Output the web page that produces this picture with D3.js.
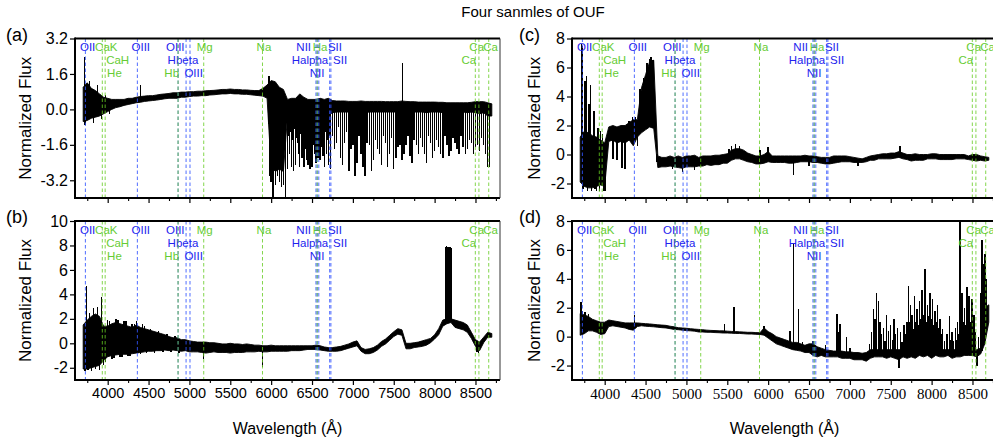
<!DOCTYPE html>
<html><head><meta charset="utf-8">
<script src="https://cdn.jsdelivr.net/npm/d3@7"></script>
<style>body{margin:0;background:#fff} svg{display:block}</style>
</head><body><svg id="c" width="993" height="442"></svg>
<script>
// ---------------- DATA ----------------
const title = "Four sanmles of OUF";
const wave = [3700,3750,3800,3850,3900,3950,4000,4050,4100,4150,
4200,4250,4300,4350,4400,4450,4500,4550,4600,4650,
4700,4750,4800,4850,4900,4950,5000,5050,5100,5150,
5200,5250,5300,5350,5400,5450,5500,5550,5600,5650,
5700,5750,5800,5850,5900,5950,6000,6050,6100,6150,
6200,6250,6300,6350,6400,6450,6500,6550,6600,6650,
6700,6750,6800,6850,6900,6950,7000,7050,7100,7150,
7200,7250,7300,7350,7400,7450,7500,7550,7600,7650,
7700,7750,7800,7850,7900,7950,8000,8050,8100,8150,
8200,8250,8300,8350,8400,8450,8500,8550,8600,8650,8700];

// panel (a): upper / lower edge of the dense flux band, and single-pixel excursions [wavelength, flux]
const aHigh = [1.0,1.2,0.95,0.85,0.7,0.55,0.5,0.45,0.45,0.45,
0.45,0.5,0.5,0.55,0.58,0.6,0.62,0.62,0.65,0.68,
0.7,0.72,0.75,0.75,0.78,0.78,0.8,0.8,0.82,0.82,
0.84,0.85,0.86,0.88,0.9,0.9,0.92,0.9,0.9,0.88,
0.88,0.86,0.85,0.85,0.95,1.1,1.3,1.25,1.0,0.9,
0.45,0.5,0.5,0.7,0.55,0.45,0.45,0.45,0.5,0.45,
0.5,0.4,0.38,0.38,0.38,0.36,0.36,0.36,0.38,0.36,
0.36,0.36,0.36,0.36,0.35,0.35,0.35,0.35,0.38,0.36,
0.35,0.35,0.33,0.33,0.33,0.33,0.33,0.32,0.32,0.3,
0.3,0.3,0.3,0.3,0.3,0.32,0.35,0.35,0.35,0.3,0.25];
const aLow = [-0.55,-0.5,-0.4,-0.35,-0.3,-0.2,-0.1,0.0,0.08,0.12,
0.18,0.22,0.26,0.3,0.32,0.36,0.38,0.4,0.42,0.45,
0.48,0.5,0.5,0.5,0.55,0.55,0.58,0.6,0.6,0.62,
0.62,0.65,0.66,0.68,0.7,0.7,0.72,0.7,0.7,0.68,
0.68,0.66,0.64,0.62,0.6,0.5,-2.6,-2.8,-2.7,-2.8,
-0.3,-0.3,-0.4,-0.3,-0.3,-0.4,-0.3,-0.3,-0.3,-0.4,
-0.3,-0.15,-0.12,-0.12,-0.12,-0.12,-0.12,-0.12,-0.12,-0.15,
-0.12,-0.12,-0.12,-0.12,-0.12,-0.12,-0.12,-0.12,-0.12,-0.12,
-0.12,-0.12,-0.12,-0.12,-0.15,-0.12,-0.12,-0.12,-0.15,-0.12,
-0.15,-0.12,-0.15,-0.12,-0.15,-0.12,-0.15,-0.2,-0.15,-0.3,-0.3];
const aSpikes = [[3715,2.35],[3725,-0.7],[3775,1.3],[3825,-0.6],[3875,1.1],[3925,-0.45],[3975,0.65],[4025,-0.2],
[4400,1.1],[5975,1.5],[5985,-3.0],[6000,-3.3],[6025,-4.3],[6050,-3.4],[6075,-3.0],[6100,-3.3],[6125,-3.5],[6150,-3.4],
[6175,-4.3],[6200,-2.7],[6212,-1.2],[6225,-2.0],[6237,-1.0],[6250,-2.6],[6262,-1.4],[6275,-2.8],[6287,-0.9],
[6300,-2.5],[6312,-1.3],[6325,-1.5],[6337,-2.0],[6350,-2.6],[6362,-1.1],[6375,-2.2],[6387,-1.6],[6400,-2.6],
[6412,-1.0],[6425,-1.8],[6437,-2.3],[6450,-2.5],[6462,-1.2],[6475,-2.7],[6487,-1.5],[6500,-2.6],[6512,-1.0],
[6525,-1.6],[6537,-2.0],[6550,-2.4],[6562,-1.3],[6575,-2.2],[6587,-1.1],[6600,-2.3],[6612,-1.7],[6625,-1.4],
[6637,-2.1],[6650,-2.6],[6662,-1.0],[6675,-2.0],[6687,-1.4],[6700,-2.5],[6712,-1.2],[6725,-2.7],[6750,-1.2],
[6775,-1.8],[6800,-1.5],[6825,-0.8],[6850,-2.2],[6875,-2.5],[6900,-1.5],[6925,-1.0],[6950,-2.8],[6975,-1.8],
[7000,-1.6],[7025,-3.0],[7050,-2.4],[7075,-1.2],[7100,-2.0],[7125,-2.6],[7150,-3.0],[7175,-1.5],[7200,-1.6],
[7225,-2.8],[7250,-2.3],[7275,-1.4],[7300,-1.8],[7325,-2.0],[7350,-2.5],[7375,-1.2],[7400,-1.5],[7425,-2.6],
[7450,-2.0],[7475,-1.3],[7500,-2.7],[7525,-2.2],[7550,-1.7],[7575,-1.6],[7600,-2.3],[7605,2.1],[7625,-2.0],
[7650,-1.6],[7675,-1.2],[7700,-2.1],[7725,-2.4],[7750,-1.4],[7775,-1.6],[7800,-2.0],[7825,-1.3],[7850,-1.7],
[7875,-2.0],[7900,-2.4],[7925,-1.2],[7950,-1.5],[7975,-2.2],[8000,-1.9],[8025,-1.4],[8050,-1.7],[8075,-2.0],
[8100,-2.2],[8125,-1.2],[8150,-1.6],[8175,-2.1],[8200,-1.9],[8225,-1.3],[8250,-1.5],[8275,-1.8],[8300,-2.0],
[8325,-1.2],[8350,-1.7],[8375,-2.0],[8400,-1.8],[8425,-1.4],[8450,-1.5],[8475,-2.0],[8500,-1.7],[8525,-1.6],
[8550,-1.9],[8575,-1.3],[8600,-1.6],[8625,-2.0],[8650,-2.6],[8670,-2.6]];

// panel (b)
const bHigh = [1.5,1.9,2.2,2.4,2.2,1.4,1.4,1.6,1.7,1.6,
1.5,1.4,1.3,1.5,1.3,1.2,1.1,1.0,0.9,0.8,
0.7,0.55,0.45,0.45,0.3,0.3,0.2,0.15,0.1,0.1,
0.1,0.05,0.05,0.0,-0.05,-0.05,0.0,-0.05,-0.05,-0.1,
-0.05,-0.1,-0.15,-0.15,-0.2,-0.2,-0.15,-0.2,-0.2,-0.2,
-0.2,-0.2,-0.2,-0.2,-0.2,-0.2,-0.2,-0.15,-0.2,-0.3,
-0.35,-0.35,-0.3,-0.25,-0.15,-0.05,0.1,0.2,-0.35,-0.5,
-0.45,-0.35,-0.15,0.15,0.35,0.65,0.95,1.2,1.1,0.0,
0.0,0.05,0.1,0.2,0.3,0.4,0.7,1.2,1.9,2.0,
2.0,1.9,1.8,1.7,1.5,0.9,0.3,0.1,0.5,0.9,0.8];
const bLow = [-2.1,-2.1,-2.0,-1.9,-1.8,-1.4,-1.1,-1.0,-0.95,-0.9,
-0.9,-0.9,-0.85,-0.8,-0.75,-0.7,-0.65,-0.65,-0.6,-0.6,
-0.55,-0.6,-0.55,-0.6,-0.65,-0.6,-0.7,-0.7,-0.7,-0.75,
-0.8,-0.75,-0.7,-0.75,-0.75,-0.75,-0.8,-0.75,-0.75,-0.75,
-0.7,-0.7,-0.7,-0.65,-0.7,-0.7,-0.65,-0.65,-0.65,-0.65,
-0.65,-0.6,-0.6,-0.6,-0.55,-0.5,-0.5,-0.5,-0.55,-0.6,
-0.65,-0.65,-0.65,-0.6,-0.5,-0.4,-0.3,-0.2,-0.65,-0.85,
-0.85,-0.75,-0.55,-0.25,-0.05,0.25,0.55,0.75,0.65,-0.45,
-0.45,-0.35,-0.3,-0.25,-0.15,0.05,0.35,0.7,1.4,1.6,
1.7,1.3,1.2,1.1,0.9,0.4,-0.25,-0.6,0.05,0.5,0.5];
const bSpikes = [[3725,-2.3],[3743,4.7],[3760,-2.2],[3775,2.5],[3800,-2.3],[3825,2.9],[3850,-2.1],[3875,3.0],
[3900,-2.2],[3925,3.8],[3950,-1.8],[3975,-1.5],[4000,1.9],[4025,1.8],[4050,-1.3],[4075,-1.2],[4100,2.0],
[4125,1.9],[4150,-1.1],[4175,-1.1],[4200,1.8],[4225,1.8],[4250,-1.0],[4275,-1.0],[4300,1.6],[4325,1.6],
[4350,1.8],[4375,-0.8],[4400,-0.9],[4425,1.6],[4450,1.4],[4475,-0.8],[4525,1.2],[4575,-0.8],[4625,1.0],
[4675,-0.7],[4725,0.8],[4775,-0.7],[4825,0.6],[4875,-0.8],[5175,-1.3],[5894,-1.9],
[8135,7.9],[8145,7.95],[8160,7.9],[8175,7.9],[8190,7.85],[8200,7.8],[8520,-0.7],[8540,-0.8]];

// panel (c)
const cHigh = [1.2,1.6,1.5,1.3,1.2,1.0,0.8,1.9,2.0,1.9,
2.0,2.0,2.2,2.4,2.4,4.6,5.5,6.4,6.5,-0.1,
-0.2,-0.2,-0.1,-0.2,-0.1,-0.2,-0.1,-0.1,-0.05,-0.2,
-0.1,-0.1,-0.1,-0.05,-0.05,0.0,0.05,0.3,0.4,0.4,
0.3,0.1,0.0,-0.1,-0.1,0.0,0.2,-0.1,-0.1,-0.1,
-0.1,-0.1,-0.1,-0.1,-0.1,-0.05,-0.1,-0.1,-0.15,-0.2,
-0.2,-0.2,-0.1,-0.1,-0.1,-0.1,-0.15,-0.2,-0.25,-0.3,
-0.2,-0.1,-0.05,0.0,0.05,0.05,0.1,0.1,0.2,0.1,
0.0,0.0,0.05,0.0,0.0,0.0,0.05,0.05,0.0,0.0,
0.0,0.0,0.0,0.0,0.0,-0.1,0.0,0.0,-0.1,-0.15,-0.2];
const cLow = [-1.9,-2.2,-2.3,-2.3,-2.2,-2.1,-2.2,0.9,1.0,0.8,
0.9,0.8,1.0,0.6,1.2,1.5,1.7,1.9,1.8,-0.9,
-0.85,-0.85,-0.8,-0.85,-0.9,-0.95,-0.85,-0.85,-0.85,-0.8,
-0.8,-0.7,-0.75,-0.7,-0.7,-0.6,-0.6,-0.4,-0.3,-0.3,
-0.4,-0.5,-0.55,-0.65,-0.65,-0.6,-0.5,-0.55,-0.55,-0.55,
-0.55,-0.6,-0.6,-0.55,-0.5,-0.5,-0.5,-0.55,-0.55,-0.6,
-0.65,-0.65,-0.6,-0.55,-0.5,-0.5,-0.5,-0.55,-0.55,-0.55,
-0.5,-0.4,-0.4,-0.3,-0.3,-0.3,-0.3,-0.25,-0.2,-0.3,
-0.35,-0.45,-0.4,-0.4,-0.4,-0.3,-0.3,-0.3,-0.35,-0.35,
-0.35,-0.35,-0.3,-0.3,-0.3,-0.35,-0.4,-0.45,-0.4,-0.45,-0.4];
const cSpikes = [[3715,7.6],[3722,7.5],[3735,-2.4],[3760,5.1],[3777,5.4],[3790,-2.5],[3810,3.5],[3826,4.76],
[3840,-2.5],[3860,2.6],[3870,3.0],[3880,-2.4],[3900,-2.5],[3920,1.8],[3935,-2.5],[3950,1.6],[3970,1.4],
[3985,-2.5],[4006,-2.5],[4100,-0.3],[4150,-0.4],[4210,-0.9],[4250,-1.0],[4300,2.3],[4340,2.6],[4375,2.6],
[4400,0.6],[4430,4.5],[4475,5.3],[4516,6.3],[4550,6.6],[4565,6.7],[4590,6.5],[4600,6.2],[4640,0.05],
[4830,-1.0],[4950,-1.2],[5100,-1.1],[5520,0.4],[5550,0.6],[5600,0.7],[5650,0.6],[5900,0.3],[6000,0.5],
[6310,-1.4],[6500,-0.8],[7100,-0.8],[7615,0.6]];

// panel (d)
const dHigh = [1.6,1.5,1.4,1.2,1.1,1.0,1.0,1.15,1.1,1.05,
1.0,0.95,0.95,0.95,0.95,0.92,0.9,0.88,0.85,0.82,
0.8,0.78,0.72,0.68,0.62,0.6,0.58,0.55,0.52,0.5,
0.48,0.45,0.43,0.42,0.4,0.4,0.38,0.36,0.35,0.33,
0.32,0.3,0.3,0.28,0.27,0.6,0.35,0.2,0.0,-0.1,
-0.2,-0.3,-0.4,-0.4,-0.5,-0.6,-0.5,-0.5,-0.7,-0.8,
-0.9,-0.95,-1.0,-1.0,-1.0,-1.05,-1.05,-1.1,-1.1,-1.15,
-1.1,-0.9,-0.9,-0.9,-0.9,-0.9,-0.9,-0.9,-0.9,-0.9,
-0.9,-0.8,-0.8,-0.8,-0.8,-0.8,-0.8,-0.8,-0.8,-0.9,
-0.9,-0.9,-0.9,-0.9,-0.8,-0.8,-0.8,-0.9,-0.8,2.0,2.2];
const dLow = [0.1,0.2,0.4,0.4,0.3,0.15,0.2,0.7,0.75,0.7,
0.65,0.6,0.5,0.45,0.7,0.75,0.72,0.7,0.68,0.65,
0.62,0.6,0.55,0.5,0.48,0.45,0.42,0.4,0.38,0.32,
0.32,0.3,0.3,0.28,0.27,0.25,0.25,0.24,0.22,0.22,
0.2,0.18,0.18,0.16,0.15,0.1,-0.1,-0.3,-0.5,-0.6,
-0.7,-0.8,-0.9,-0.95,-1.0,-1.1,-1.1,-1.3,-1.4,-1.3,
-1.4,-1.4,-1.4,-1.4,-1.5,-1.5,-1.5,-1.6,-1.6,-1.6,
-1.7,-1.5,-1.4,-1.4,-1.4,-1.5,-1.4,-1.5,-1.6,-1.4,
-1.5,-1.4,-1.5,-1.3,-1.4,-1.3,-1.5,-1.3,-1.4,-1.4,
-1.3,-1.5,-1.4,-1.4,-1.3,-1.3,-1.3,-1.4,-1.2,-0.5,1.0];
const dSpikes = [[3712,2.4],[3725,1.8],[3760,1.7],[3800,1.6],[4365,1.5],[5466,0.85],[5584,2.07],[5950,0.75],
[6270,0.4],[6310,6.5],[6371,1.9],[6420,-0.4],[6550,-0.3],[6700,-0.6],[6840,1.6],[6860,0.3],[6880,0.9],
[6960,0.0],[7000,-0.8],[7240,-0.5],[7265,0.3],[7288,1.9],[7310,1.2],[7329,3.0],[7350,2.5],[7370,1.0],
[7390,0.2],[7410,0.6],[7430,-0.3],[7450,1.5],[7475,0.4],[7500,0.8],[7520,-0.2],[7540,1.2],[7560,0.2],
[7580,0.6],[7600,-2.2],[7620,0.3],[7640,-0.4],[7660,0.8],[7680,0.2],[7700,1.0],[7717,3.5],[7730,1.0],
[7740,2.2],[7760,1.5],[7775,0.5],[7790,2.8],[7805,1.0],[7820,1.9],[7835,0.8],[7850,2.5],[7865,1.2],
[7880,3.2],[7895,1.5],[7910,2.0],[7921,4.65],[7935,1.0],[7950,2.2],[7965,1.4],[7980,3.0],[7995,1.2],
[8010,2.6],[8025,0.8],[8040,1.8],[8055,1.0],[8070,2.2],[8085,0.6],[8100,1.2],[8115,0.2],[8130,0.5],
[8160,-0.3],[8190,0.2],[8218,1.4],[8235,-0.2],[8250,0.3],[8270,-0.3],[8290,0.6],[8305,-0.2],[8320,1.0],
[8335,0.2],[8349,8.5],[8360,1.5],[8370,3.0],[8385,1.0],[8400,2.0],[8415,0.8],[8431,3.4],[8445,1.5],
[8460,2.8],[8475,1.0],[8492,2.6],[8505,0.6],[8520,1.5],[8540,0.3],[8553,-2.0],[8575,0.0],[8590,-1.0],
[8600,3.0],[8614,6.7],[8625,6.5],[8640,5.0],[8655,5.7],[8665,4.0]];

// y axes
const aDomain = [-4, 3.2], aTicks = [3.2,1.6,0,-1.6,-3.2], aTickLabels = ["3.2","1.6","0.0","-1.6","-3.2"];
const bDomain = [-3, 10], bTicks = [10,8,6,4,2,0,-2], bTickLabels = ["10","8","6","4","2","0","-2"];
const cDomain = [-3, 8], cTicks = [8,6,4,2,0,-2], cTickLabels = ["8","6","4","2","0","-2"];
const dDomain = [-3, 8], dTicks = [8,6,4,2,0,-2], dTickLabels = ["8","6","4","2","0","-2"];
// x axis
const xDomain = [3600, 8800];
const xMajor = [4000,4500,5000,5500,6000,6500,7000,7500,8000,8500];
const xMajorLabels = ["4000","4500","5000","5500","6000","6500","7000","7500","8000","8500"];
const xMinor = [3750,4250,4750,5250,5750,6250,6750,7250,7750,8250,8750];

// spectral line markers (Å)
const blueLines = [3727,4363,4861,4959,5007,6548,6563,6583,6716,6731];
const greenLines = [3934,3969,4861,5175,5894,6563,8498,8542,8662];
// line name labels: text, wavelength of label centre, row, kind
const labelText = ["OII","CaK","OIII","OIII","Mg","Na","NII","Ha","SII","Ca","Ca",
                   "CaH","Hbeta","Halpha","SII","Ca",
                   "He","Hb","OIII","NII"];
const labelWave = [3755,3983,4405,4827,5187,5912,6398,6598,6781,8515,8684,
                   4122,4921,6475,6843,8418,
                   4083,4783,5052,6561];
const labelRow  = [0,0,0,0,0,0,0,0,0,0,0, 1,1,1,1,1, 2,2,2,2];
const labelKind = ["b","g","b","b","g","g","b","g","b","g","g",
                   "g","b","b","b","g",
                   "g","g","b","b"];

// ---------------- DRAW ----------------
const SANS = '"Liberation Sans", Arial, Helvetica, sans-serif';
const SERIF = '"Liberation Serif", "Times New Roman", serif';
const BLUE_T = "#2222ee", GREEN_T = "#66cc33";
const BLUE_L = "#3355ff", GREEN_L = "#66cc22";
const svg = d3.select("#c");

svg.append("text").attr("x", 533).attr("y", 17).attr("text-anchor", "middle")
  .style("font-family", SANS).style("font-size", "15px").text(title);

const panels = [
  {id:"a", hi:aHigh, lo:aLow, sp:aSpikes, dom:aDomain, ticks:aTicks, tl:aTickLabels, x0:75, x1:500, y0:38.5, y1:198, xlab:null, lx:6, ylx:25},
  {id:"b", hi:bHigh, lo:bLow, sp:bSpikes, dom:bDomain, ticks:bTicks, tl:bTickLabels, x0:75, x1:500, y0:221, y1:380, xlab:SANS, lx:6, ylx:25},
  {id:"c", hi:cHigh, lo:cLow, sp:cSpikes, dom:cDomain, ticks:cTicks, tl:cTickLabels, x0:572, x1:997, y0:38.5, y1:198, xlab:null, lx:519, ylx:534},
  {id:"d", hi:dHigh, lo:dLow, sp:dSpikes, dom:dDomain, ticks:dTicks, tl:dTickLabels, x0:572, x1:997, y0:221, y1:380, xlab:SERIF, lx:519, ylx:534}
];

panels.forEach(P => {
  const x = d3.scaleLinear().domain(xDomain).range([P.x0, P.x1]);
  const y = d3.scaleLinear().domain(P.dom).range([P.y1, P.y0]);
  const g = svg.append("g");
  const clipId = "clip-" + P.id;
  svg.append("defs").append("clipPath").attr("id", clipId)
    .append("rect").attr("x", P.x0).attr("y", P.y0).attr("width", P.x1 - P.x0).attr("height", P.y1 - P.y0);
  const inner = g.append("g").attr("clip-path", `url(#${clipId})`);

  // dense flux band
  const band = wave.map((w, i) => ({w, hi: P.hi[i], lo: P.lo[i]}));
  const area = d3.area().x(d => x(d.w)).y0(d => y(d.lo)).y1(d => y(d.hi));
  inner.append("path").attr("d", area(band)).attr("fill", "#000").attr("stroke", "#000")
    .attr("stroke-width", 0.9).attr("stroke-linejoin", "round");

  // single-pixel excursions, drawn from the band centre
  const mid = w => {
    const i = Math.max(0, Math.min(wave.length - 1, Math.round((w - wave[0]) / (wave[1] - wave[0]))));
    return (P.hi[i] + P.lo[i]) / 2;
  };
  inner.selectAll("line.sp").data(P.sp).enter().append("line").attr("class", "sp")
    .attr("x1", d => x(d[0])).attr("x2", d => x(d[0]))
    .attr("y1", d => y(mid(d[0]))).attr("y2", d => y(d[1]))
    .attr("stroke", "#000").attr("stroke-width", 1.45).attr("shape-rendering", "crispEdges");

  // labels
  const rowOff = [12.5, 25.5, 38.5];
  labelText.forEach((t, i) => {
    inner.append("text").attr("x", x(labelWave[i])).attr("y", P.y0 + rowOff[labelRow[i]])
      .attr("text-anchor", "middle").style("font-family", SANS).style("font-size", "11.5px")
      .attr("fill", labelKind[i] === "b" ? BLUE_T : GREEN_T).text(t);
  });

  // vertical dashed lines
  blueLines.forEach(w => inner.append("line").attr("x1", x(w)).attr("x2", x(w)).attr("y1", P.y0).attr("y2", P.y1)
    .attr("stroke", BLUE_L).attr("stroke-width", 1).attr("stroke-dasharray", "3.5,2.5").attr("opacity", 0.85));
  greenLines.forEach(w => inner.append("line").attr("x1", x(w)).attr("x2", x(w)).attr("y1", P.y0).attr("y2", P.y1)
    .attr("stroke", GREEN_L).attr("stroke-width", 1).attr("stroke-dasharray", "3.5,2.5").attr("opacity", 0.8));

  // axes
  const ya = g.append("g").attr("transform", `translate(${P.x0},0)`)
    .call(d3.axisLeft(y).tickValues(P.ticks).tickSize(5).tickPadding(2).tickFormat((d, i) => P.tl[i]));
  ya.select(".domain").remove();
  ya.selectAll("line").attr("stroke", "#000").attr("stroke-width", 1.2);
  ya.selectAll("text").style("font-family", SANS).style("font-size", "16px").attr("fill", "#000");

  const xa = g.append("g").attr("transform", `translate(0,${P.y1})`)
    .call(d3.axisBottom(x).tickValues(xMajor).tickSize(5).tickPadding(3)
      .tickFormat((d, i) => P.xlab ? xMajorLabels[i] : ""));
  xa.select(".domain").remove();
  xa.selectAll("line").attr("stroke", "#000").attr("stroke-width", 1.2);
  xa.selectAll("text").style("font-family", P.xlab || SANS).style("font-size", P.xlab === SERIF ? "15px" : "14.5px").attr("fill", "#000");
  const xm = g.append("g").attr("transform", `translate(0,${P.y1})`)
    .call(d3.axisBottom(x).tickValues(xMinor).tickSize(3).tickFormat(""));
  xm.select(".domain").remove();
  xm.selectAll("line").attr("stroke", "#000").attr("stroke-width", 1.1);

  // frame
  g.append("line").attr("x1", P.x0).attr("x2", P.x1).attr("y1", P.y0).attr("y2", P.y0).attr("stroke", "#000").attr("stroke-width", 2);
  g.append("line").attr("x1", P.x0).attr("x2", P.x1).attr("y1", P.y1).attr("y2", P.y1).attr("stroke", "#000").attr("stroke-width", 2);
  g.append("line").attr("x1", P.x0).attr("x2", P.x0).attr("y1", P.y0 - 1).attr("y2", P.y1 + 1).attr("stroke", "#000").attr("stroke-width", 2);
  g.append("line").attr("x1", P.x1).attr("x2", P.x1).attr("y1", P.y0).attr("y2", P.y1).attr("stroke", "#333").attr("stroke-width", 1);

  // panel letter
  svg.append("text").attr("x", P.lx).attr("y", P.y0 + 2).style("font-family", SANS).style("font-size", "18px").text(`(${P.id})`);

  // y label
  svg.append("text").attr("transform", `translate(${P.ylx},${(P.y0 + P.y1) / 2}) rotate(-90)`)
    .attr("text-anchor", "middle").attr("dy", "0.35em")
    .style("font-family", SANS).style("font-size", "17px").text("Normalized Flux");

  if (P.xlab) {
    svg.append("text").attr("x", (P.x0 + P.x1) / 2).attr("y", 434).attr("text-anchor", "middle")
      .style("font-family", SANS).style("font-size", "16px").text("Wavelength (Å)");
  }
});
</script>
</body></html>
